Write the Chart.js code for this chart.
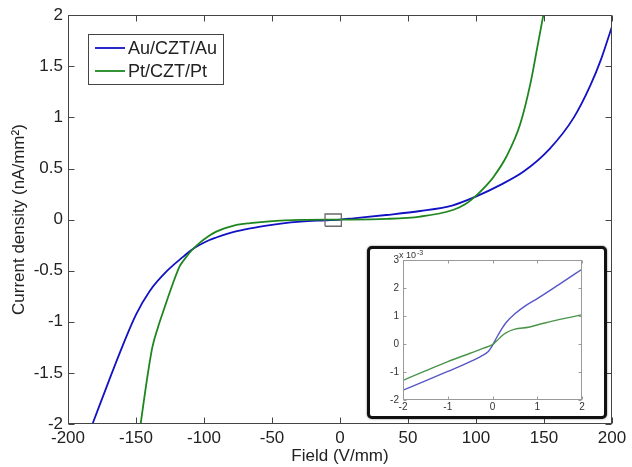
<!DOCTYPE html>
<html>
<head>
<meta charset="utf-8">
<script src="https://cdn.jsdelivr.net/npm/chart.js@4.4.1/dist/chart.umd.min.js"></script>
<style>
  html, body { margin: 0; padding: 0; background: #fff; }
  #wrap { position: relative; width: 632px; height: 467px; overflow: hidden; }
  #main { position: absolute; left: 0; top: 0; }
  #insetBox {
    position: absolute; left: 367px; top: 246px;
    width: 234px; height: 167px;
    border: 3px solid #111; border-radius: 5px;
    background: #fff; box-shadow: 0 0 2px rgba(0,0,0,0.6);
  }
  #inset { display: block; }
</style>
</head>
<body>
<div id="wrap">
  <canvas id="main" width="632" height="467"></canvas>
  <div id="insetBox"><canvas id="inset" width="234" height="167"></canvas></div>
</div>
<script>
// main plot: field (V/mm) vs current density (nA/mm^2)
const auField   = [-182, -170, -160, -150, -140, -127, -115, -109, -96, -91, -78, -66, -54, -42, -29, -17, 0, 10, 34, 59, 83, 99, 118, 135, 154, 172, 184, 192, 200];
const auCurrent = [-2.0, -1.58, -1.24, -0.93, -0.70, -0.50, -0.36, -0.295, -0.20, -0.175, -0.12, -0.085, -0.058, -0.036, -0.02, -0.01, 0, 0.013, 0.045, 0.084, 0.14, 0.22, 0.34, 0.47, 0.69, 1.0, 1.31, 1.57, 1.89];

const ptField   = [-146.6, -142, -138, -134, -129, -123, -118, -115, -113, -109, -103, -97, -91, -85, -78, -66, -54, -29, 0, 34, 59, 83, 92, 100.5, 108, 113, 122.5, 132.4, 140, 145, 149.5];
const ptCurrent = [-2.0, -1.57, -1.25, -1.06, -0.86, -0.63, -0.46, -0.40, -0.365, -0.30, -0.225, -0.165, -0.118, -0.085, -0.058, -0.035, -0.02, -0.003, 0, 0.007, 0.03, 0.094, 0.15, 0.24, 0.34, 0.42, 0.62, 0.93, 1.33, 1.68, 2.0];

// little marker box around the origin (zoomed region)
const zoomBoxX = [-11, 1, 1, -11, -11];
const zoomBoxY = [-0.065, -0.065, 0.055, 0.055, -0.065];

// inset: field -2..2 V/mm, current in units of 1e-3 nA/mm^2
const insetAuField   = [-2, -1.5, -1, -0.5, -0.25, -0.1, 0, 0.1, 0.2, 0.3, 0.5, 0.75, 1, 1.5, 2];
const insetAuCurrent = [-1.65, -1.32, -0.98, -0.63, -0.43, -0.28, -0.05, 0.25, 0.52, 0.76, 1.08, 1.38, 1.62, 2.14, 2.67];
const insetPtField   = [-2, -1.5, -1, -0.5, -0.2, 0, 0.1, 0.2, 0.3, 0.5, 0.8, 1, 1.5, 2];
const insetPtCurrent = [-1.30, -0.96, -0.63, -0.33, -0.15, -0.02, 0.12, 0.28, 0.40, 0.53, 0.60, 0.68, 0.88, 1.04];

const seriesLabels = ['Au/CZT/Au', 'Pt/CZT/Pt'];
const FONT = "'Liberation Sans', Arial, Helvetica, sans-serif";

const pts = (xs, ys) => xs.map((x, i) => ({ x, y: ys[i] }));
const plain = v => String(+Number(v).toFixed(3));

// matlab style box with inward ticks on all four sides
const matlabBox = {
  id: 'matlabBox',
  afterDatasetsDraw(chart, args, o) {
    const { ctx, chartArea: a, scales: { x, y } } = chart;
    const L = Math.round(a.left) + 0.5, R = Math.round(a.right) - 0.5;
    const T = Math.round(a.top) + 0.5, B = Math.round(a.bottom) - 0.5;
    ctx.save();
    ctx.strokeStyle = o.color;
    ctx.lineWidth = 1;
    ctx.beginPath();
    x.ticks.forEach(t => {
      const px = Math.round(x.getPixelForValue(t.value)) + 0.5;
      ctx.moveTo(px, B); ctx.lineTo(px, B - o.len);
      ctx.moveTo(px, T); ctx.lineTo(px, T + o.len);
    });
    y.ticks.forEach(t => {
      const py = Math.round(y.getPixelForValue(t.value)) + 0.5;
      ctx.moveTo(L, py); ctx.lineTo(L + o.len, py);
      ctx.moveTo(R, py); ctx.lineTo(R - o.len, py);
    });
    ctx.stroke();
    ctx.strokeRect(L, T, R - L, B - T);
    ctx.restore();
  }
};

// boxed legend in the upper left
const boxLegend = {
  id: 'boxLegend',
  afterDraw(chart, args, o) {
    const { ctx } = chart;
    ctx.save();
    ctx.fillStyle = '#fff';
    ctx.fillRect(o.x, o.y, o.w, o.h);
    ctx.strokeStyle = '#444';
    ctx.lineWidth = 1;
    ctx.strokeRect(o.x + 0.5, o.y + 0.5, o.w, o.h);
    ctx.font = `${o.size}px ${FONT}`;
    ctx.textBaseline = 'middle';
    o.items.forEach((it, i) => {
      const yy = o.y + o.first + i * o.gap;
      ctx.strokeStyle = it.color;
      ctx.lineWidth = 1.8;
      ctx.beginPath();
      ctx.moveTo(o.x + 7, yy); ctx.lineTo(o.x + 37, yy);
      ctx.stroke();
      ctx.fillStyle = '#222';
      ctx.fillText(it.label, o.x + 40, yy + 1);
    });
    ctx.restore();
  }
};

const auColor = '#1212c4';
const ptColor = '#1f861f';

new Chart(document.getElementById('main'), {
  type: 'line',
  data: {
    datasets: [
      { data: pts(zoomBoxX, zoomBoxY), borderColor: '#6a6a6a', borderWidth: 1.3, tension: 0, order: 0 },
      { label: seriesLabels[1], data: pts(ptField, ptCurrent), borderColor: ptColor, borderWidth: 1.8, cubicInterpolationMode: 'monotone', order: 1 },
      { label: seriesLabels[0], data: pts(auField, auCurrent), borderColor: auColor, borderWidth: 1.8, cubicInterpolationMode: 'monotone', order: 2 }
    ]
  },
  options: {
    responsive: false,
    animation: false,
    devicePixelRatio: 1,
    layout: { padding: { top: 12, right: 20, left: 0, bottom: 0 } },
    elements: { point: { radius: 0 } },
    plugins: {
      legend: { display: false },
      tooltip: { enabled: false },
      matlabBox: { color: '#444', len: 6 },
      boxLegend: {
        x: 88, y: 34, w: 135, h: 50, first: 14, gap: 23, size: 18,
        items: [{ label: seriesLabels[0], color: auColor }, { label: seriesLabels[1], color: ptColor }]
      }
    },
    scales: {
      x: {
        type: 'linear', min: -200, max: 200,
        afterFit: s => { s.height = 43; },
        grid: { display: false, drawTicks: false, tickLength: 0 }, border: { display: false },
        ticks: { stepSize: 50, color: '#222', padding: 4, maxRotation: 0, callback: plain, font: { family: FONT, size: 17 } },
        title: { display: true, text: 'Field (V/mm)', color: '#222', padding: { top: 0, bottom: 0 }, font: { family: FONT, size: 17 } }
      },
      y: {
        type: 'linear', min: -2, max: 2,
        afterFit: s => { s.width = 68; },
        grid: { display: false, drawTicks: false, tickLength: 0 }, border: { display: false },
        ticks: { stepSize: 0.5, color: '#222', padding: 5, callback: plain, font: { family: FONT, size: 17 } },
        title: { display: true, text: 'Current density (nA/mm²)', color: '#222', padding: { top: 9, bottom: 0 }, font: { family: FONT, size: 17 } }
      }
    }
  },
  plugins: [matlabBox, boxLegend]
});

// exponent label of the inset y axis
const expLabel = {
  id: 'expLabel',
  afterDraw(chart) {
    const { ctx, chartArea: a } = chart;
    ctx.save();
    ctx.fillStyle = '#333';
    ctx.textBaseline = 'alphabetic';
    ctx.font = `9px ${FONT}`;
    ctx.fillText('x 10', a.left - 4, 9);
    const w = ctx.measureText('x 10').width;
    ctx.font = `7px ${FONT}`;
    ctx.fillText('-3', a.left - 4 + w + 1, 5.5);
    ctx.restore();
  }
};

new Chart(document.getElementById('inset'), {
  type: 'line',
  data: {
    datasets: [
      { data: pts(insetPtField, insetPtCurrent), borderColor: '#4a944a', borderWidth: 1.4, cubicInterpolationMode: 'monotone' },
      { data: pts(insetAuField, insetAuCurrent), borderColor: '#5656c8', borderWidth: 1.4, cubicInterpolationMode: 'monotone' }
    ]
  },
  options: {
    responsive: false,
    animation: false,
    devicePixelRatio: 1,
    layout: { padding: { top: 11, right: 22, left: 0, bottom: 0 } },
    elements: { point: { radius: 0 } },
    plugins: {
      legend: { display: false },
      tooltip: { enabled: false },
      matlabBox: { color: '#9a9a9a', len: 3 }
    },
    scales: {
      x: {
        type: 'linear', min: -2, max: 2,
        afterFit: s => { s.height = 16; },
        grid: { display: false, drawTicks: false, tickLength: 0 }, border: { display: false },
        ticks: { stepSize: 1, color: '#333', padding: 1, maxRotation: 0, callback: plain, font: { family: FONT, size: 10 } }
      },
      y: {
        type: 'linear', min: -2, max: 3,
        afterFit: s => { s.width = 33; },
        grid: { display: false, drawTicks: false, tickLength: 0 }, border: { display: false },
        ticks: { stepSize: 1, color: '#333', padding: 4, callback: plain, font: { family: FONT, size: 10 } }
      }
    }
  },
  plugins: [matlabBox, expLabel]
});
</script>
</body>
</html>
